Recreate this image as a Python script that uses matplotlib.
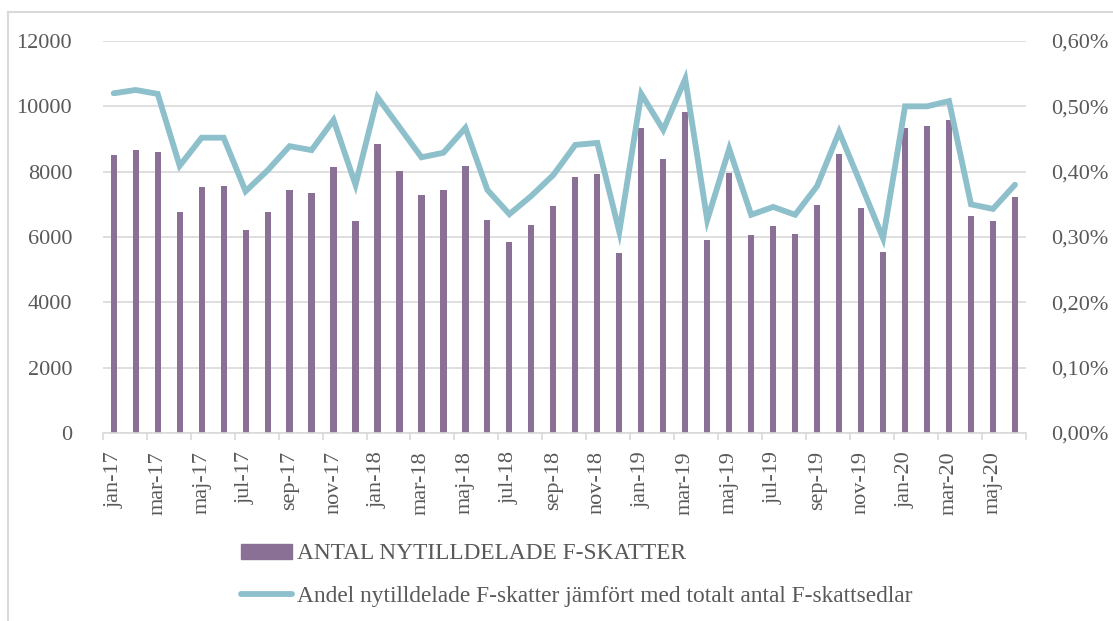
import matplotlib.pyplot as plt
import numpy as np
from matplotlib.ticker import FuncFormatter
from matplotlib.lines import Line2D

# -----------------------------
# Data
# -----------------------------
months = ["jan", "feb", "mar", "apr", "maj", "jun", "jul", "aug", "sep", "okt", "nov", "dec"]
labels = [f"{m}-{y}" for y in ["17", "18", "19", "20"] for m in months][:42]

antal = [8500, 8650, 8600, 6780, 7530, 7570, 6200, 6780, 7430, 7350, 8150, 6480,
         8850, 8020, 7290, 7440, 8170, 6520, 5860, 6370, 6960, 7840, 7930, 5500,
         9340, 8380, 9830, 5920, 7950, 6060, 6340, 6100, 6970, 8540, 6900, 5540,
         9350, 9400, 9580, 6640, 6500, 7210]

andel = [0.520, 0.525, 0.519, 0.409, 0.452, 0.452, 0.370, 0.402, 0.439, 0.433, 0.479, 0.380,
         0.514, 0.468, 0.422, 0.429, 0.467, 0.372, 0.335, 0.363, 0.395, 0.441, 0.444, 0.308,
         0.519, 0.464, 0.542, 0.326, 0.435, 0.334, 0.346, 0.334, 0.378, 0.461, 0.380, 0.298,
         0.500, 0.500, 0.508, 0.350, 0.343, 0.380]

bar_label = "ANTAL NYTILLDELADE F-SKATTER"
line_label = "Andel nytilldelade F-skatter jämfört med totalt antal F-skattsedlar"

# -----------------------------
# Style
# -----------------------------
plt.rcParams['font.family'] = ['Liberation Serif', 'DejaVu Serif']
text_col = "#595959"
grid_col = "#d9d9d9"
bar_col = "#8b7096"
line_col = "#8dc0cb"

fig = plt.figure(figsize=(11.13, 6.21), dpi=100)
ax = fig.add_axes([0.0923, 0.3027, 0.8295, 0.6313])
ax2 = ax.twinx()

x = np.arange(len(antal))

# -----------------------------
# Bars and line
# -----------------------------
ax.bar(x, antal, width=0.28, color=bar_col, zorder=2)
ax.set_ylim(0, 12000)
ax.set_yticks(np.arange(0, 12001, 2000))
ax.set_xlim(-0.5, len(antal) - 0.5)
ax.grid(True, axis='y', color=grid_col, linewidth=1.2, zorder=0)
ax.set_axisbelow(True)

ax2.plot(x, andel, color=line_col, linewidth=4.2, solid_joinstyle='miter',
         solid_capstyle='round', zorder=3)
ax2.set_ylim(0, 0.6)
ax2.set_yticks(np.arange(0, 0.61, 0.1))
ax2.yaxis.set_major_formatter(FuncFormatter(lambda v, p: f"{v:.2f}%".replace(".", ",")))

# x ticks: labels every second month, tick marks between pairs
ax.set_xticks(x[::2])
ax.set_xticklabels(labels[::2], rotation=90)
ax.set_xticks(np.arange(-0.5, len(antal), 2), minor=True)
ax.tick_params(axis='x', which='major', length=0, pad=13, labelsize=16, labelcolor=text_col)
ax.tick_params(axis='x', which='minor', length=5, color=grid_col, width=1.2)
ax.tick_params(axis='y', length=0, pad=22, labelsize=16, labelcolor=text_col)
ax2.tick_params(axis='y', length=0, pad=18, labelsize=16, labelcolor=text_col)

for a in [ax, ax2]:
    for s in a.spines.values():
        s.set_visible(False)
ax.spines['bottom'].set_visible(True)
ax.spines['bottom'].set_color(grid_col)
ax.spines['bottom'].set_linewidth(1.2)

# -----------------------------
# Legend
# -----------------------------
handles = [plt.Rectangle((0, 0), 1, 1, color=bar_col),
           Line2D([0], [0], color=line_col, linewidth=4.2, solid_capstyle='round')]
leg = fig.legend(handles, [bar_label, line_label], loc='upper left',
                 bbox_to_anchor=(0.2165, 0.125), frameon=False, borderpad=0,
                 borderaxespad=0, fontsize=16.8, handlelength=2.2, handleheight=0.6,
                 handletextpad=0.2, labelspacing=0.92)
for t in leg.get_texts():
    t.set_color(text_col)

# chart frame (partly outside the image)
fig.add_artist(Line2D([8 / 1113, 8 / 1113], [0, 1 - 12 / 621], color=grid_col, linewidth=1.5))
fig.add_artist(Line2D([8 / 1113, 1], [1 - 12 / 621, 1 - 12 / 621], color=grid_col, linewidth=1.5))

plt.savefig("out.png", dpi=100)
